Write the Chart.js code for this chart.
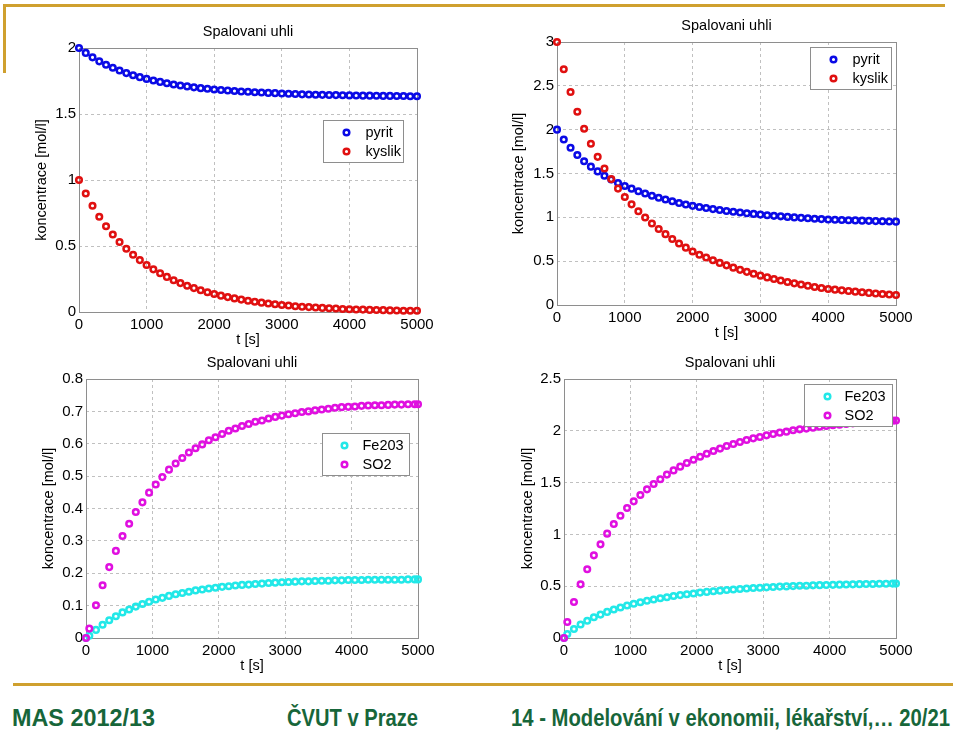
<!DOCTYPE html>
<html><head><meta charset="utf-8">
<script src="https://cdn.jsdelivr.net/npm/chart.js@4.4.0/dist/chart.umd.min.js"></script>
<style>
html,body{margin:0;padding:0;background:#fff;width:960px;height:732px;overflow:hidden;position:relative;font-family:"Liberation Sans",Arial,sans-serif}
.cv{position:absolute}
.gold{position:absolute;background:#cfa02e}
.foot{position:absolute;top:707px;color:#17663a;font-weight:bold;font-size:23px;line-height:23px;font-family:"Liberation Sans Narrow","Liberation Sans",Arial,sans-serif;white-space:nowrap;transform-origin:0 0}
</style></head><body>
<canvas id="cTL" class="cv" width="447" height="326" style="left:0;top:24px"></canvas>
<canvas id="cTR" class="cv" width="446" height="325" style="left:480px;top:18px"></canvas>
<canvas id="cBL" class="cv" width="448" height="321" style="left:0;top:355px"></canvas>
<canvas id="cBR" class="cv" width="446" height="321" style="left:480px;top:355px"></canvas>
<div class="gold" style="left:3px;top:4px;width:942px;height:3px"></div>
<div class="gold" style="left:3px;top:4px;width:3px;height:69px"></div>
<div class="gold" style="left:13px;top:683px;width:940px;height:3px"></div>
<div class="foot" data-w="143" style="left:12px">MAS 2012/13</div>
<div class="foot" data-w="131" style="left:287px">ČVUT v Praze</div>
<div class="foot" data-w="439" style="left:511px">14 - Modelování v ekonomii, lékařství,… 20/21</div>
<script>
// ---------- data ----------
const chartTitle = 'Spalovani uhli';
const xLabel = 't [s]';
const yLabel = 'koncentrace [mol/l]';
const xTicks = [0, 1000, 2000, 3000, 4000, 5000];
const yTicksTL = [0, 0.5, 1, 1.5, 2];
const yTicksTR = [0, 0.5, 1, 1.5, 2, 2.5, 3];
const yTicksBL = [0, 0.1, 0.2, 0.3, 0.4, 0.5, 0.6, 0.7, 0.8];
const yTicksBR = [0, 0.5, 1, 1.5, 2, 2.5];

const tTop = [0,100,200,300,400,500,600,700,800,900,1000,1100,1200,1300,1400,1500,1600,1700,1800,1900,2000,2100,2200,2300,2400,2500,2600,2700,2800,2900,3000,3100,3200,3300,3400,3500,3600,3700,3800,3900,4000,4100,4200,4300,4400,4500,4600,4700,4800,4900,5000];
const tBot = [0,50,150,250,350,450,550,650,750,850,950,1050,1150,1250,1350,1450,1550,1650,1750,1850,1950,2050,2150,2250,2350,2450,2550,2650,2750,2850,2950,3050,3150,3250,3350,3450,3550,3650,3750,3850,3950,4050,4150,4250,4350,4450,4550,4650,4750,4850,4950,5000];

const pyritA = [2.0,1.963,1.929,1.899,1.873,1.85,1.829,1.81,1.794,1.779,1.766,1.754,1.743,1.733,1.724,1.716,1.709,1.702,1.696,1.691,1.686,1.682,1.678,1.674,1.671,1.668,1.665,1.663,1.66,1.658,1.655,1.653,1.651,1.649,1.648,1.646,1.645,1.644,1.643,1.642,1.641,1.640,1.639,1.639,1.638,1.637,1.637,1.636,1.636,1.635,1.635];
const kyslikA = [1.0,0.898,0.805,0.722,0.65,0.587,0.53,0.479,0.434,0.393,0.356,0.323,0.293,0.266,0.241,0.219,0.199,0.181,0.165,0.15,0.136,0.124,0.113,0.103,0.094,0.085,0.078,0.071,0.064,0.059,0.053,0.049,0.044,0.04,0.037,0.034,0.031,0.028,0.026,0.023,0.021,0.019,0.018,0.016,0.015,0.014,0.012,0.011,0.01,0.009,0.009];
const pyritB = [2.0,1.887,1.793,1.711,1.64,1.578,1.524,1.475,1.431,1.392,1.357,1.327,1.298,1.272,1.247,1.224,1.203,1.183,1.164,1.147,1.131,1.118,1.106,1.094,1.084,1.073,1.064,1.055,1.047,1.039,1.031,1.024,1.017,1.011,1.005,0.999,0.994,0.989,0.984,0.98,0.976,0.973,0.97,0.967,0.965,0.962,0.96,0.957,0.955,0.953,0.951];
const kyslikB = [3.0,2.69,2.43,2.205,2.01,1.84,1.69,1.557,1.436,1.328,1.232,1.148,1.07,0.998,0.93,0.867,0.808,0.753,0.702,0.654,0.61,0.574,0.541,0.51,0.48,0.452,0.426,0.401,0.378,0.356,0.335,0.315,0.297,0.279,0.263,0.247,0.233,0.219,0.206,0.194,0.183,0.175,0.167,0.159,0.152,0.145,0.138,0.132,0.126,0.12,0.114];
const fe2o3A = [0,0.007,0.025,0.041,0.055,0.067,0.079,0.088,0.097,0.105,0.112,0.119,0.124,0.13,0.135,0.139,0.143,0.147,0.15,0.153,0.155,0.158,0.16,0.162,0.164,0.165,0.167,0.168,0.17,0.171,0.172,0.173,0.174,0.175,0.175,0.176,0.177,0.177,0.178,0.178,0.179,0.179,0.179,0.18,0.18,0.18,0.18,0.18,0.18,0.181,0.181,0.181];
const so2A = [0,0.029,0.101,0.163,0.219,0.269,0.315,0.353,0.389,0.419,0.449,0.474,0.497,0.52,0.539,0.556,0.573,0.586,0.598,0.611,0.62,0.63,0.64,0.647,0.655,0.661,0.668,0.672,0.678,0.683,0.687,0.691,0.694,0.698,0.70,0.703,0.706,0.708,0.711,0.713,0.714,0.715,0.717,0.718,0.719,0.719,0.72,0.721,0.721,0.722,0.722,0.722];
const fe2o3B = [0,0.039,0.087,0.13,0.166,0.2,0.226,0.252,0.275,0.295,0.314,0.33,0.345,0.359,0.372,0.383,0.394,0.405,0.414,0.422,0.43,0.438,0.445,0.451,0.457,0.463,0.468,0.473,0.478,0.482,0.485,0.489,0.492,0.496,0.498,0.501,0.504,0.505,0.508,0.51,0.512,0.513,0.515,0.517,0.518,0.52,0.521,0.521,0.523,0.524,0.525,0.525];
const so2B = [0,0.154,0.347,0.518,0.663,0.798,0.904,1.007,1.10,1.18,1.255,1.319,1.38,1.435,1.486,1.532,1.577,1.618,1.654,1.689,1.721,1.75,1.779,1.805,1.828,1.853,1.873,1.892,1.911,1.927,1.94,1.956,1.969,1.982,1.992,2.005,2.014,2.021,2.03,2.04,2.046,2.053,2.059,2.066,2.072,2.078,2.082,2.085,2.091,2.095,2.098,2.1];

// ---------- styling ----------
const FAM = '"Liberation Sans", Arial, sans-serif';
Chart.defaults.font.family = FAM;
Chart.defaults.font.size = 14.5;
Chart.defaults.color = '#000';

const COL = {blue:'#0a0ae6', red:'#e01010', cyan:'#22e8e8', magenta:'#e010e0'};
const FRAME = '#8e8e8e';
const GRID = '#c0c0c0';
const R = 2.8, BW = 2.5;

const framePlugin = {
  id: 'frame',
  beforeDatasetsDraw(chart) {
    const {ctx, chartArea: a} = chart;
    ctx.save();
    ctx.strokeStyle = FRAME; ctx.lineWidth = 1;
    ctx.strokeRect(Math.round(a.left) + 0.5, Math.round(a.top) + 0.5, Math.round(a.right - a.left), Math.round(a.bottom - a.top));
    ctx.restore();
  }
};
const legendBoxPlugin = {
  id: 'boxLegend',
  afterDatasetsDraw(chart, args, o) {
    if (!o || o.w === undefined) return;
    const {ctx, chartArea: a} = chart;
    const x = Math.round(a.left + o.x) + 0.5, y = Math.round(a.top + o.y) + 0.5;
    ctx.save();
    ctx.fillStyle = '#fff'; ctx.fillRect(x, y, o.w, o.h);
    ctx.strokeStyle = FRAME; ctx.lineWidth = 1; ctx.strokeRect(x, y, o.w, o.h);
    chart.data.datasets.forEach((ds, i) => {
      const cy = y + o.row0 + i * o.gap;
      ctx.beginPath(); ctx.arc(x + o.mx, cy, ds.pointRadius, 0, Math.PI * 2);
      ctx.strokeStyle = ds.pointBorderColor; ctx.lineWidth = ds.pointBorderWidth; ctx.stroke();
      ctx.fillStyle = '#000'; ctx.font = '14.5px ' + FAM; ctx.textBaseline = 'middle'; ctx.textAlign = 'left';
      ctx.fillText(ds.label, x + o.tx, cy);
    });
    ctx.restore();
  }
};

function buildChart(id, cfg) {
  const datasets = cfg.series.map(s => ({
    label: s.label,
    data: cfg.x.map((t, i) => ({x: t, y: s.values[i]})),
    borderColor: s.color,
    backgroundColor: 'rgba(0,0,0,0)',
    pointBackgroundColor: 'rgba(0,0,0,0)',
    pointBorderColor: s.color,
    pointRadius: R,
    pointHoverRadius: R,
    pointBorderWidth: BW,
    showLine: false,
    order: s.order,
    clip: false
  }));
  return new Chart(document.getElementById(id), {
    type: 'scatter',
    data: {datasets},
    options: {
      responsive: false, animation: false, events: [], devicePixelRatio: 1,
      layout: {padding: {left: 0, top: 0, right: 30, bottom: 0}},
      plugins: {
        legend: {display: false},
        tooltip: {enabled: false},
        title: {display: true, text: chartTitle, fullSize: false, color: '#000',
                font: {size: 14.5, weight: 'normal', lineHeight: '16px'}, padding: {top: 0, bottom: 8}},
        boxLegend: cfg.legend
      },
      scales: {
        x: {
          type: 'linear', min: 0, max: 5000,
          afterBuildTicks: sc => { sc.ticks = xTicks.map(v => ({value: v})); },
          afterFit: sc => { sc.height = 38; },
          ticks: {color: '#000', font: {size: 15}, padding: 4, maxRotation: 0, autoSkip: false, callback: v => String(v)},
          grid: {color: GRID, lineWidth: 1, drawTicks: false},
          border: {display: false, dash: [3, 3]},
          title: {display: true, text: xLabel, color: '#000', font: {size: 14.5, lineHeight: '16px'}, padding: {top: 0, bottom: 2}}
        },
        y: {
          type: 'linear', min: 0, max: cfg.yTicks[cfg.yTicks.length - 1],
          afterBuildTicks: sc => { sc.ticks = cfg.yTicks.map(v => ({value: v})); },
          afterFit: sc => { sc.width = cfg.yw; },
          ticks: {color: '#000', font: {size: 15}, padding: 3, autoSkip: false, callback: v => String(v)},
          grid: {color: GRID, lineWidth: 1, drawTicks: false},
          border: {display: false, dash: [3, 3]},
          title: {display: true, text: yLabel, color: '#000', font: {size: 14.5, lineHeight: '16px'}, padding: {top: cfg.yTitlePad, bottom: 0}}
        }
      }
    },
    plugins: [framePlugin, legendBoxPlugin]
  });
}

buildChart('cTL', {
  x: tTop, yTicks: yTicksTL, yw: 79, yTitlePad: 34,
  series: [{label: 'pyrit', values: pyritA, color: COL.blue, order: 1},
           {label: 'kyslik', values: kyslikA, color: COL.red, order: 0}],
  legend: {x: 244, y: 72, w: 80, h: 42, mx: 23, tx: 42, row0: 12, gap: 19}
});
buildChart('cTR', {
  x: tTop, yTicks: yTicksTR, yw: 77, yTitlePad: 31,
  series: [{label: 'pyrit', values: pyritB, color: COL.blue, order: 1},
           {label: 'kyslik', values: kyslikB, color: COL.red, order: 0}],
  legend: {x: 253, y: 5, w: 81, h: 42, mx: 23, tx: 42, row0: 12, gap: 19}
});
buildChart('cBL', {
  x: tBot, yTicks: yTicksBL, yw: 86, yTitlePad: 41,
  series: [{label: 'Fe203', values: fe2o3A, color: COL.cyan, order: 1},
           {label: 'SO2', values: so2A, color: COL.magenta, order: 0}],
  legend: {x: 236, y: 54, w: 87, h: 42, mx: 22, tx: 40, row0: 12, gap: 19}
});
buildChart('cBR', {
  x: tBot, yTicks: yTicksBR, yw: 84, yTitlePad: 40,
  series: [{label: 'Fe203', values: fe2o3B, color: COL.cyan, order: 1},
           {label: 'SO2', values: so2B, color: COL.magenta, order: 0}],
  legend: {x: 240, y: 5, w: 88, h: 42, mx: 23, tx: 40, row0: 12, gap: 19}
});

document.querySelectorAll('.foot').forEach(el => {
  const target = +el.dataset.w;
  const w = el.getBoundingClientRect().width;
  if (w > 0) el.style.transform = 'scaleX(' + (target / w) + ')';
});
</script>
</body></html>
